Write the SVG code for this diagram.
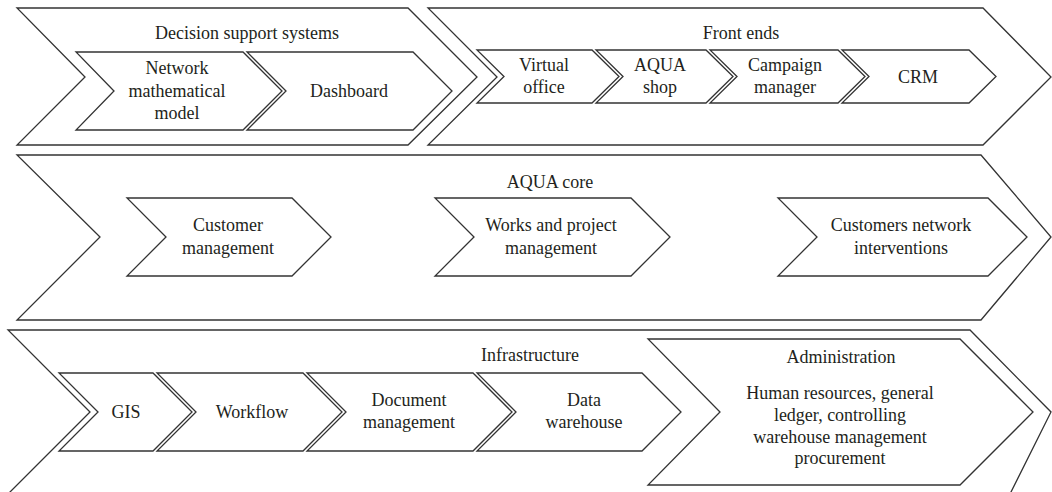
<svg xmlns="http://www.w3.org/2000/svg" width="1052" height="492" viewBox="0 0 1052 492">
<style>
.s{fill:#fff;stroke:#333;stroke-width:1.3;stroke-linejoin:miter}
.t{font-family:"Liberation Serif","Times New Roman",serif;font-size:18px;fill:#231f20;text-anchor:middle}
</style>
<rect width="1052" height="492" fill="#fff"/>
<g id="dss">
<polygon class="s" points="17,8 408,8 477,77 408,145 17,145 85,77"/>
<text class="t" x="247" y="39">Decision support systems</text>
</g>
<g id="frontends">
<polygon class="s" points="428,8 983,8 1051,77 983,145 428,145 497,77"/>
<text class="t" x="741" y="39">Front ends</text>
</g>
<g id="nmm">
<polygon class="s" points="76,52 243,52 282,91 243,130 76,130 114,91"/>
<text class="t" x="177" y="74">Network</text>
<text class="t" x="177" y="97">mathematical</text>
<text class="t" x="177" y="119">model</text>
</g>
<g id="dashboard">
<polygon class="s" points="247,52 413,52 452,91 413,130 247,130 286,91"/>
<text class="t" x="349" y="97">Dashboard</text>
</g>
<g id="virtualoffice">
<polygon class="s" points="477,50 592,50 619,76.5 592,103 477,103 504,76.5"/>
<text class="t" x="544" y="71">Virtual</text>
<text class="t" x="544" y="93">office</text>
</g>
<g id="aquashop">
<polygon class="s" points="596,50 706,50 733,76.5 706,103 596,103 623,76.5"/>
<text class="t" x="660" y="71">AQUA</text>
<text class="t" x="660" y="93">shop</text>
</g>
<g id="campaign">
<polygon class="s" points="710,50 838,50 865,76.5 838,103 710,103 737,76.5"/>
<text class="t" x="785" y="71">Campaign</text>
<text class="t" x="785" y="93">manager</text>
</g>
<g id="crm">
<polygon class="s" points="842,50 969,50 996,76.5 969,103 842,103 869,76.5"/>
<text class="t" x="918" y="83">CRM</text>
</g>
<g id="aquacore">
<polygon class="s" points="17,155 981,155 1051,237 981,320 17,320 100,237"/>
<text class="t" x="550" y="188">AQUA core</text>
</g>
<g id="customermgmt">
<polygon class="s" points="127,198 292,198 331,237 292,276 127,276 166,237"/>
<text class="t" x="228" y="231">Customer</text>
<text class="t" x="228" y="254">management</text>
</g>
<g id="worksproject">
<polygon class="s" points="435,198 631,198 670,237 631,276 435,276 474,237"/>
<text class="t" x="551" y="231">Works and project</text>
<text class="t" x="551" y="254">management</text>
</g>
<g id="customersnetwork">
<polygon class="s" points="778,198 988,198 1027,237 988,276 778,276 817,237"/>
<text class="t" x="901" y="231">Customers network</text>
<text class="t" x="901" y="254">interventions</text>
</g>
<g id="infrastructure">
<polygon class="s" points="8,330 970,330 1051,412 1010,494 8,494 90,412"/>
<text class="t" x="530" y="361">Infrastructure</text>
</g>
<g id="gis">
<polygon class="s" points="59,373 153,373 192,412 153,451 59,451 98,412"/>
<text class="t" x="126" y="418">GIS</text>
</g>
<g id="workflow">
<polygon class="s" points="157,373 303,373 342,412 303,451 157,451 196,412"/>
<text class="t" x="252" y="418">Workflow</text>
</g>
<g id="docmgmt">
<polygon class="s" points="307,373 473,373 512,412 473,451 307,451 346,412"/>
<text class="t" x="409" y="406">Document</text>
<text class="t" x="409" y="428">management</text>
</g>
<g id="datawarehouse">
<polygon class="s" points="477,373 642,373 681,412 642,451 477,451 516,412"/>
<text class="t" x="584" y="406">Data</text>
<text class="t" x="584" y="428">warehouse</text>
</g>
<g id="administration">
<polygon class="s" points="648,339 960,339 1033,412 960,485 648,485 720,412"/>
<text class="t" x="841" y="363">Administration</text>
<text class="t" x="840" y="399">Human resources, general</text>
<text class="t" x="840" y="421">ledger, controlling</text>
<text class="t" x="840" y="443">warehouse management</text>
<text class="t" x="840" y="464">procurement</text>
</g>
<g id="connectors"></g>
</svg>
